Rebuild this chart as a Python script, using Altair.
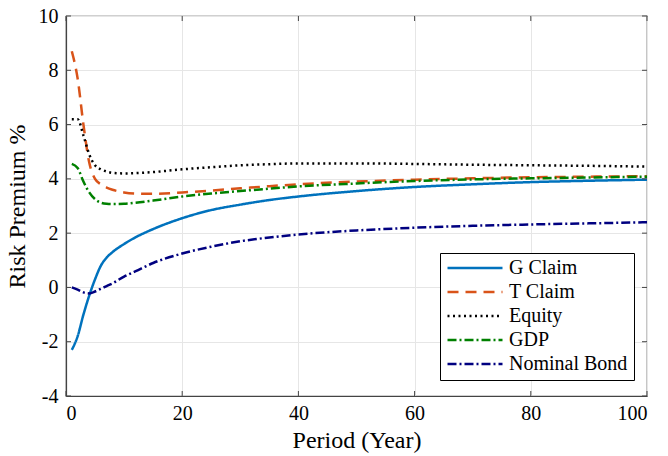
import altair as alt
import pandas as pd

periods = [1, 2, 3, 4, 5, 6, 7, 8, 10, 12, 15, 20, 25, 30, 35, 40, 50, 60, 70, 80, 90, 100]
g_claim = [-2.3, -1.8, -1.0, -0.3, 0.3, 0.8, 1.1, 1.3, 1.6, 1.85, 2.15, 2.55, 2.85, 3.05, 3.22, 3.35, 3.55, 3.7, 3.8, 3.88, 3.93, 3.97]
t_claim = [8.7, 7.7, 6.0, 4.6, 4.0, 3.8, 3.68, 3.6, 3.5, 3.46, 3.45, 3.5, 3.57, 3.65, 3.73, 3.8, 3.9, 3.97, 4.02, 4.06, 4.08, 4.1]
equity = [6.2, 6.2, 5.6, 4.9, 4.5, 4.35, 4.27, 4.22, 4.2, 4.21, 4.25, 4.35, 4.43, 4.5, 4.54, 4.57, 4.57, 4.55, 4.52, 4.5, 4.48, 4.45]
gdp = [4.55, 4.4, 3.9, 3.5, 3.25, 3.12, 3.08, 3.07, 3.08, 3.12, 3.2, 3.35, 3.46, 3.55, 3.64, 3.72, 3.83, 3.92, 3.98, 4.02, 4.05, 4.08]
nominal_bond = [0.0, -0.08, -0.18, -0.22, -0.15, -0.05, 0.05, 0.15, 0.4, 0.6, 0.9, 1.25, 1.5, 1.7, 1.84, 1.95, 2.1, 2.2, 2.27, 2.32, 2.36, 2.4]

series_names = ["G Claim", "T Claim", "Equity", "GDP", "Nominal Bond"]
series_values = [g_claim, t_claim, equity, gdp, nominal_bond]
series_colors = ["#0072BD", "#D95319", "#000000", "#008000", "#000080"]
series_dashes = [[1, 0], [11, 7], [2, 3.5], [9, 3, 2, 3], [9, 3, 2, 3]]

x_ticks = [0, 20, 40, 60, 80, 100]
y_ticks = [-4, -2, 0, 2, 4, 6, 8, 10]

rows = []
for name, vals in zip(series_names, series_values):
    for p, v in zip(periods, vals):
        rows.append({"Period": p, "Premium": v, "Series": name})
df = pd.DataFrame(rows)

W, H = 581, 380
FONT = "Liberation Serif, Times New Roman, Times, serif"

xscale = alt.Scale(domain=[0, 100], nice=False)
yscale = alt.Scale(domain=[-4, 10], nice=False)


def make_legend():
    return alt.Legend(title=None, orient="none", legendX=374, legendY=237,
                      symbolType="stroke", symbolSize=3025, clipHeight=18,
                      rowPadding=4, symbolStrokeWidth=2.5,
                      labelFont=FONT, labelFontSize=20, labelColor="black",
                      labelOffset=5, padding=6, strokeColor="black",
                      fillColor="white", labelLimit=300)


lines = alt.Chart(df).mark_line(strokeWidth=2.5, interpolate="monotone", strokeCap="butt").encode(
    x=alt.X("Period:Q", scale=xscale,
            axis=alt.Axis(values=x_ticks, title="Period (Year)", grid=True,
                          labelExpr="datum.value + ''")),
    y=alt.Y("Premium:Q", scale=yscale,
            axis=alt.Axis(values=y_ticks, title="Risk Premium %", grid=True,
                          labelExpr="datum.value + ''")),
    color=alt.Color("Series:N", scale=alt.Scale(domain=series_names, range=series_colors),
                    legend=make_legend()),
    strokeDash=alt.StrokeDash("Series:N", scale=alt.Scale(domain=series_names, range=series_dashes),
                              legend=make_legend()),
    order=alt.Order("Period:Q"),
)

xt = pd.DataFrame({"Period": x_ticks})
yt = pd.DataFrame({"Premium": y_ticks})
tick_color = "#444444"
xb = alt.Chart(xt).mark_rule(color=tick_color, strokeWidth=1).encode(
    x="Period:Q", y=alt.value(H), y2=alt.value(H - 5))
xtop = alt.Chart(xt).mark_rule(color=tick_color, strokeWidth=1).encode(
    x="Period:Q", y=alt.value(0), y2=alt.value(5))
yl = alt.Chart(yt).mark_rule(color=tick_color, strokeWidth=1).encode(
    y="Premium:Q", x=alt.value(0), x2=alt.value(5))
yr = alt.Chart(yt).mark_rule(color=tick_color, strokeWidth=1).encode(
    y="Premium:Q", x=alt.value(W), x2=alt.value(W - 5))

chart = alt.layer(lines, xb, xtop, yl, yr).properties(
    width=W, height=H,
    autosize=alt.AutoSizeParams(type="none"),
    padding={"left": 66, "top": 16, "right": 21, "bottom": 60},
    background="white",
).configure_view(stroke="#444444", strokeWidth=1.2).configure_axis(
    labelFont=FONT, labelFontSize=20, labelColor="black",
    titleFont=FONT, titleFontSize=24, titleColor="black", titleFontWeight="normal",
    domainColor="#444444", domainWidth=1.2, ticks=False, labelPadding=7,
    gridColor="#e6e6e6", gridWidth=1,
).configure_axisX(titlePadding=5).configure_axisY(titlePadding=9, labelPadding=8)

chart.save("out.html", embed_options={"renderer": "svg", "actions": False})
